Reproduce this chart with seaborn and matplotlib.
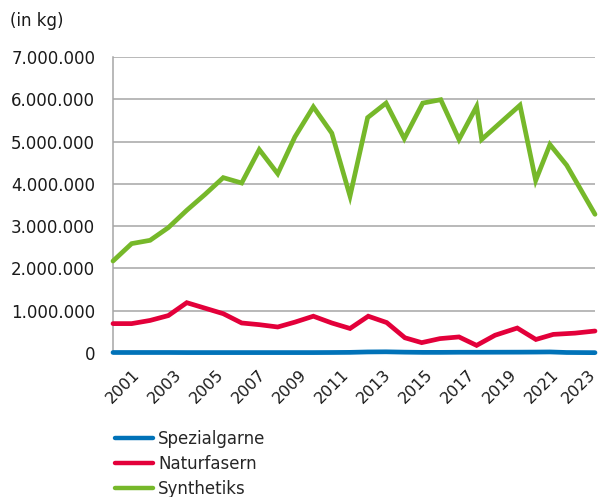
import matplotlib
matplotlib.use("Agg")
import matplotlib.pyplot as plt
import seaborn as sns
import pandas as pd

# ---- data (values in kg) ----
synth_x = [2000.0, 2000.89, 2001.77, 2002.64, 2003.52, 2004.39, 2005.26, 2006.14, 2006.98,
           2007.86, 2008.68, 2009.56, 2010.44, 2011.31, 2012.15, 2013.03, 2013.90, 2014.78,
           2015.64, 2016.51, 2017.35, 2017.59, 2019.42, 2020.17, 2020.85, 2021.65, 2023.0]
synth_y = [2175000, 2587000, 2665000, 2965000, 3375000, 3750000, 4147000, 4020000, 4810000,
           4240000, 5110000, 5820000, 5200000, 3710000, 5566000, 5910000, 5070000, 5910000,
           5990000, 5050000, 5830000, 5050000, 5860000, 4080000, 4930000, 4440000, 3280000]

natur_x = [2000.0, 2000.89, 2001.77, 2002.64, 2003.52, 2004.39, 2005.26, 2006.14, 2006.98,
           2007.86, 2008.68, 2009.56, 2010.44, 2011.31, 2012.18, 2013.06, 2013.93, 2014.73,
           2015.60, 2016.51, 2017.35, 2018.23, 2019.29, 2020.18, 2021.01, 2022.05, 2023.0]
natur_y = [695000, 695000, 770000, 885000, 1190000, 1060000, 930000, 710000, 670000,
           615000, 730000, 870000, 710000, 580000, 870000, 720000, 360000, 245000,
           340000, 380000, 180000, 420000, 590000, 320000, 440000, 470000, 520000]

spez_x = synth_x
spez_y = [12000, 12000, 12000, 12000, 10000, 10000, 10000, 10000, 10000,
          10000, 10000, 10000, 12000, 15000, 25000, 28000, 20000, 15000,
          15000, 18000, 18000, 18000, 20000, 22000, 25000, 12000, 8000]

series_names = ["Spezialgarne", "Naturfasern", "Synthetiks"]
series_colors = ["#0072b8", "#e3003a", "#76b82a"]
year_ticks = list(range(2000, 2024))
year_labels = [y for y in year_ticks if y % 2 == 1]
y_ticks = [0, 1000000, 2000000, 3000000, 4000000, 5000000, 6000000, 7000000]

frames = []
for name, xs, ys in zip(series_names, [spez_x, natur_x, synth_x], [spez_y, natur_y, synth_y]):
    frames.append(pd.DataFrame({"Jahr": xs, "kg": ys, "Serie": name}))
df = pd.concat(frames, ignore_index=True)

sns.set_theme(style="white")
plt.rcParams["font.family"] = ["DejaVu Sans"]
plt.rcParams["font.size"] = 12

fig = plt.figure(figsize=(6.03, 4.97), dpi=100)
ax = fig.add_axes([113/603, 1-353/497, (595-113)/603, (353-57)/497])

sns.lineplot(data=df, x="Jahr", y="kg", hue="Serie", hue_order=series_names,
             palette=dict(zip(series_names, series_colors)), sort=False,
             estimator=None, linewidth=3.4, ax=ax, legend=False)
for ln in ax.lines:
    ln.set_clip_on(False)
    ln.set_solid_joinstyle("miter")
    ln.set_zorder(3)

ax.set_xlim(2000, 2023)
ax.set_ylim(0, 7000000)
ax.set_xticks(year_ticks)
ax.set_xticklabels([])
for y in year_labels:
    dx = -1.5 if y != year_labels[-1] else -5.0
    ax.annotate(str(y), xy=(y, 0), xycoords=("data", "axes fraction"),
                xytext=(dx, -9.8), textcoords="offset points", rotation=45,
                ha="right", va="top", rotation_mode="anchor", fontsize=11.5,
                color="#1a1a1a", annotation_clip=False)
ax.set_yticks(y_ticks)
ax.set_yticklabels([f"{v:,}".replace(",", ".") for v in y_ticks], fontsize=12, color="#1a1a1a")

ax.grid(axis="y", color="#a6a6a6", linewidth=1.1)
ax.grid(axis="x", visible=False)
ax.set_axisbelow(True)
for s in ["top", "right"]:
    ax.spines[s].set_visible(False)
ax.spines["left"].set_color("#a6a6a6")
ax.spines["left"].set_linewidth(1.1)
ax.spines["bottom"].set_color("#a6a6a6")
ax.spines["bottom"].set_linewidth(1.1)
ax.tick_params(axis="both", which="both", direction="out", length=3.8, width=1.0,
               color="#a6a6a6")
ax.tick_params(axis="y", pad=9)
ax.set_xlabel("")
ax.set_ylabel("")

fig.text(10/603, 1-21/497, "(in kg)", fontsize=12, color="#1a1a1a", va="center", ha="left")

handles = [plt.Line2D([], [], color=c, linewidth=3.2) for c in series_colors]
fig.legend(handles, series_names, loc="upper left", bbox_to_anchor=(115/603, 1-430/497),
           frameon=False, borderpad=0, borderaxespad=0, handlelength=2.3,
           handletextpad=0.3, labelspacing=0.42, fontsize=12)

fig.savefig("out.png", dpi=100)
